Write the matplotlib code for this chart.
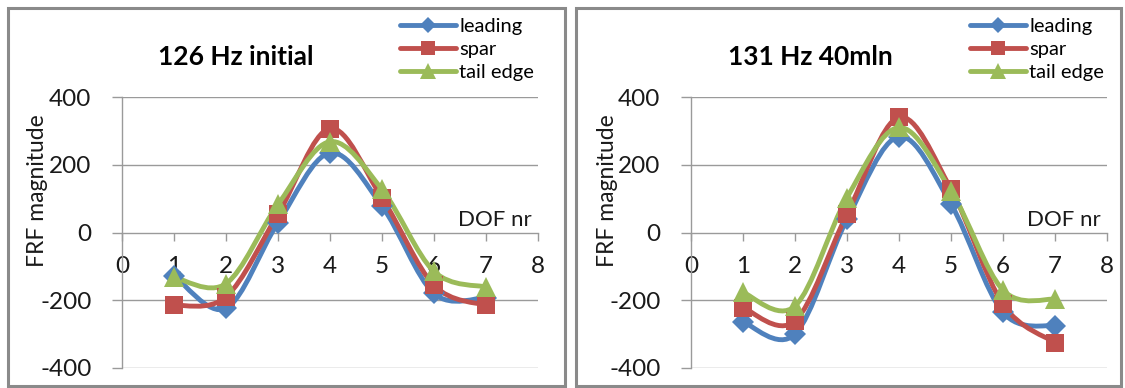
"""
FRF magnitude per DOF for two wing states (leading / spar / tail edge), Excel-style smoothed lines.
"""
import matplotlib
matplotlib.use("Agg")
import matplotlib.pyplot as plt
from matplotlib.path import Path
from matplotlib.patches import PathPatch, Rectangle
from matplotlib.lines import Line2D

# --- data ---
DOF = [1, 2, 3, 4, 5, 6, 7]
SERIES_NAMES = ["leading", "spar", "tail edge"]

INITIAL_LEADING = [-127, -224, 29, 235, 78, -180, -192]
INITIAL_SPAR = [-215, -190, 54, 307, 102, -156, -215]
INITIAL_TAIL = [-132, -151, 83, 268, 127, -115, -161]

MLN40_LEADING = [-264, -300, 39, 283, 84, -236, -276]
MLN40_SPAR = [-222, -261, 54, 340, 128, -212, -325]
MLN40_TAIL = [-177, -217, 103, 310, 123, -170, -197]

TITLES = ["126 Hz initial", "131 Hz 40mln"]
Y_TICKS = [-400, -200, 0, 200, 400]
X_TICKS = [0, 1, 2, 3, 4, 5, 6, 7, 8]

COLORS = ["#4F81BD", "#C0504D", "#9BBB59"]
MARKERS = ["D", "s", "^"]
MARKER_SIZES = [11, 13.5, 15]

FONT = "Lato"
TEXT_COLOR = "#1a1a1a"
W, H = 1125, 388

plt.rcParams["axes.unicode_minus"] = False


def smooth_path(xs, ys):
    """Bezier path through the points, like Excel's smoothed line."""
    pts = list(zip(xs, ys))
    n = len(pts)
    verts = [pts[0]]
    codes = [Path.MOVETO]
    for i in range(n - 1):
        p0 = pts[max(i - 1, 0)]
        p1 = pts[i]
        p2 = pts[i + 1]
        p3 = pts[min(i + 2, n - 1)]
        c1 = (p1[0] + (p2[0] - p0[0]) / 6, p1[1] + (p2[1] - p0[1]) / 6)
        c2 = (p2[0] - (p3[0] - p1[0]) / 6, p2[1] - (p3[1] - p1[1]) / 6)
        verts += [c1, c2, p2]
        codes += [Path.CURVE4] * 3
    return Path(verts, codes)


def draw_panel(fig, rect_px, axes_px, title, title_xy, legend_xy, series):
    # panel frame
    x0, y0, x1, y1 = rect_px
    fig.patches.append(Rectangle((x0 / W, 1 - y1 / H), (x1 - x0) / W, (y1 - y0) / H,
                                 transform=fig.transFigure, fill=False,
                                 edgecolor="#8a8a8a", linewidth=2.2))

    ax_l, ax_t, ax_r, ax_b = axes_px
    ax = fig.add_axes([ax_l / W, 1 - ax_b / H, (ax_r - ax_l) / W, (ax_b - ax_t) / H])
    ax.set_xlim(0, 8)
    ax.set_ylim(-400, 400)
    ax.set_facecolor("none")

    for vals, color, marker, ms in zip(series, COLORS, MARKERS, MARKER_SIZES):
        ax.add_patch(PathPatch(smooth_path(DOF, vals), fill=False, edgecolor=color,
                               linewidth=3.5, capstyle="round", joinstyle="round", zorder=3))
        ax.plot(DOF, vals, linestyle="none", marker=marker, markersize=ms,
                color=color, markeredgewidth=0, zorder=4, clip_on=False)

    grid_color = "#9a9a9a"
    for y in Y_TICKS:
        if y != 0:
            ax.axhline(y, color=grid_color, linewidth=1.0, zorder=1)

    for s in ["top", "right"]:
        ax.spines[s].set_visible(False)
    for s in ["left", "bottom"]:
        ax.spines[s].set_color(grid_color)
        ax.spines[s].set_position(("data", 0))
        ax.spines[s].set_linewidth(1.0)

    ax.set_xticks(X_TICKS)
    ax.set_yticks(Y_TICKS)
    ax.tick_params(axis="x", direction="out", length=6, width=1, color=grid_color,
                   pad=11, labelsize=17.5, labelcolor=TEXT_COLOR)
    ax.tick_params(axis="y", direction="out", length=7, width=1, color=grid_color,
                   pad=15, labelsize=17.5, labelcolor=TEXT_COLOR)
    for lab in ax.get_xticklabels() + ax.get_yticklabels():
        lab.set_fontfamily(FONT)

    fig.text((ax_l - 84) / W, 1 - 191 / H, "FRF magnitude", rotation=90,
             ha="center", va="center", fontsize=16.5, fontfamily=FONT, color=TEXT_COLOR)

    ax.text(7.88, 6, "DOF nr", ha="right", va="bottom", fontsize=16,
            fontfamily=FONT, color=TEXT_COLOR)

    fig.text(title_xy[0] / W, 1 - title_xy[1] / H, title, ha="center", va="center",
             fontsize=19, fontweight="bold", fontfamily=FONT, color="black")

    handles = [Line2D([], [], color=c, marker=m, markersize=ms * 0.75, linewidth=3.5,
                      markeredgewidth=0, solid_capstyle="round")
               for c, m, ms in zip(COLORS, MARKERS, MARKER_SIZES)]
    ax.legend(handles, SERIES_NAMES, loc="upper left",
              bbox_to_anchor=(legend_xy[0] / W, 1 - legend_xy[1] / H),
              bbox_transform=fig.transFigure, frameon=False, borderpad=0,
              borderaxespad=0, handlelength=2.8, handletextpad=0.15,
              labelspacing=0.3, prop={"family": FONT, "size": 14.5})
    return ax


def main():
    fig = plt.figure(figsize=(W / 100, H / 100), dpi=100, facecolor="white")
    draw_panel(fig, (8, 8, 565, 386), (122, 97, 538, 368), TITLES[0], (236, 57), (400, 18),
               [INITIAL_LEADING, INITIAL_SPAR, INITIAL_TAIL])
    draw_panel(fig, (576, 8, 1121, 386), (691, 97, 1107, 368), TITLES[1], (810, 57), (970, 18),
               [MLN40_LEADING, MLN40_SPAR, MLN40_TAIL])
    fig.savefig("out.png", dpi=100, facecolor="white")
    plt.close(fig)


if __name__ == "__main__":
    main()
